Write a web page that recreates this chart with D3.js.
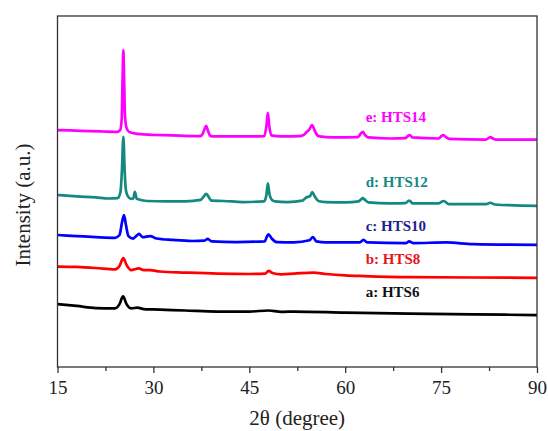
<!DOCTYPE html>
<meta charset="utf-8">
<script src="https://d3js.org/d3.v7.min.js"></script>
<style>
  body { margin: 0; background: #fff; }
  text { font-family: "Liberation Serif", "Times New Roman", serif; }
</style>
<div id="chart"></div>
<script>

// 2theta (degree) / intensity (a.u., offset patterns)
var hts14 = [[15,67.5],[17,67.4],[20,67.2],[22,67.1],[24.3,67.0],[24.8,67.5],[25.05,70.9],[25.18,81.9],[25.3,90.3],[25.42,81.9],[25.55,71.8],[25.8,68.1],[26.2,67.0],[27.5,66.4],[30,66.1],[33,66.0],[36,65.8],[37.3,65.8],[37.7,66.4],[38.0,67.8],[38.25,68.7],[38.5,67.5],[38.8,66.1],[39.2,65.7],[42,65.7],[45,65.7],[47.35,65.8],[47.7,69.0],[47.9,72.4],[48.1,69.0],[48.45,66.0],[50,65.7],[53,65.8],[53.5,66.1],[54.0,67.0],[54.4,67.7],[54.8,68.9],[55.2,67.5],[55.6,66.1],[56,65.7],[58,65.4],[62.0,65.5],[62.4,66.4],[62.75,67.0],[63.1,66.1],[63.6,65.4],[67,65.1],[69.4,65.2],[69.8,65.8],[70.1,66.1],[70.5,65.4],[74.6,65.1],[75.0,65.7],[75.35,66.1],[75.8,65.4],[76.3,65.0],[82,64.8],[82.4,65.2],[82.7,65.5],[83.1,65.1],[83.6,64.8],[90,64.8]];
var hts12 = [[15,49.0],[18,48.6],[21,48.3],[23,48.0],[24.4,48.1],[24.85,49.9],[25.08,56.1],[25.3,65.6],[25.5,56.1],[25.7,50.4],[26.0,48.7],[26.5,47.9],[26.85,48.0],[27.1,49.9],[27.4,47.9],[29,47.3],[32,47.2],[35,47.2],[37.4,47.6],[37.8,48.4],[38.3,49.3],[38.7,48.3],[39.1,47.4],[41,47.3],[44,47.0],[47.3,47.2],[47.65,48.7],[47.9,52.3],[48.15,49.3],[48.5,47.7],[49,47.2],[51,47.0],[53.3,47.4],[53.9,48.3],[54.5,48.7],[54.85,49.8],[55.3,48.4],[55.8,47.3],[57,47.0],[60,46.9],[62.1,47.2],[62.45,47.7],[62.75,48.1],[63.1,47.6],[63.6,46.9],[67,46.6],[69.4,46.7],[70,47.4],[70.6,46.6],[74.6,46.6],[75.4,47.3],[76.2,46.4],[82,46.4],[82.7,46.8],[83.4,46.3],[90,45.9]];
var hts10 = [[15,37.6],[18,37.3],[21,37.0],[24,36.8],[24.7,37.6],[25.1,41.3],[25.4,43.3],[25.7,40.5],[26.1,37.3],[26.8,36.6],[27.3,37.3],[27.75,37.9],[28.3,37.0],[29.5,37.3],[30.5,36.6],[33,36.2],[36,35.9],[38,36.0],[38.5,36.5],[39.1,35.8],[43,35.6],[47.4,35.8],[47.8,37.3],[48.0,37.8],[48.5,36.6],[49.3,35.6],[52,35.5],[54.4,36.1],[54.95,37.0],[55.5,35.8],[57,35.5],[62.3,35.5],[62.85,36.2],[63.5,35.5],[69.5,35.3],[70,35.8],[70.6,35.3],[75.8,35.5],[80,35.0],[90,34.8]];
var hts8 = [[15,28.6],[18,28.5],[21,28.2],[24,27.8],[24.7,28.8],[25.3,31.0],[25.8,29.1],[26.5,27.6],[27.7,28.1],[28.5,27.6],[29.5,27.6],[31,27.2],[35,26.9],[40,26.6],[45,26.5],[47.5,26.6],[48,27.4],[48.6,26.8],[50,26.4],[52,26.6],[55,26.9],[57,26.5],[60,26.1],[63,25.9],[70,25.6],[80,25.5],[90,25.4]];
var hts6 = [[15,17.9],[18,17.4],[21,16.8],[24,16.7],[24.7,17.9],[25.25,20.1],[25.8,17.9],[26.5,16.7],[27.5,16.9],[28.5,16.5],[30,16.4],[35,16.1],[40,15.8],[45,15.8],[48,16.1],[50,15.7],[52,15.8],[60,15.5],[70,15.2],[80,15.0],[90,14.8]];

var seriesNames = ["e: HTS14", "d: HTS12", "c: HTS10", "b: HTS8", "a: HTS6"];
var seriesData = [hts14, hts12, hts10, hts8, hts6];
var lineColors = ["#ff00ff", "#14897f", "#0000ff", "#ff0000", "#000000"];
var textColors = ["#ff00ff", "#14897f", "#1f1f8c", "#e8121b", "#111111"];
var labelY = [121.7, 187.3, 230.7, 264, 297.3];

var xTicks = [15, 30, 45, 60, 75, 90];
var xMinor = [22.5, 37.5, 52.5, 67.5, 82.5];

var W = 548, H = 431;
var margin = {top: 16, right: 11, bottom: 64, left: 57.5};
var width = W - margin.left - margin.right;
var height = H - margin.top - margin.bottom;

var svg = d3.select("#chart").append("svg")
    .attr("width", W)
    .attr("height", H);

var g = svg.append("g")
    .attr("transform", "translate(" + margin.left + "," + margin.top + ")");

var x = d3.scaleLinear().domain([15, 90]).range([0, width]);
var y = d3.scaleLinear().domain([0, 100]).range([height, 0]);

var line = d3.line()
    .x(function(d) { return x(d[0]); })
    .y(function(d) { return y(d[1]); })
    .curve(d3.curveMonotoneX);

g.selectAll(".pattern")
  .data(seriesData)
  .enter()
  .append("path")
    .attr("class", "pattern")
    .attr("d", line)
    .attr("fill", "none")
    .attr("stroke", function(d, i) { return lineColors[i]; })
    .attr("stroke-width", 2.7)
    .attr("stroke-linejoin", "round");

// labels
g.selectAll(".lab")
  .data(seriesNames)
  .enter()
  .append("text")
    .attr("class", "lab")
    .attr("x", x(63.2))
    .attr("y", function(d, i) { return labelY[i] - margin.top; })
    .attr("fill", function(d, i) { return textColors[i]; })
    .attr("font-size", 15)
    .attr("font-weight", "bold")
    .text(function(d) { return d; });

// frame
g.append("rect")
    .attr("width", width)
    .attr("height", height)
    .attr("fill", "none")
    .attr("stroke", "#333")
    .attr("stroke-width", 1.3);

// x axis, major + minor ticks pointing out
var xAxis = g.append("g")
    .attr("transform", "translate(0," + height + ")")
    .call(d3.axisBottom(x).tickValues(xTicks).tickSize(6).tickPadding(8).tickFormat(d3.format("d")));
xAxis.select(".domain").remove();
xAxis.selectAll("line").attr("stroke", "#333").attr("stroke-width", 1.3);
xAxis.selectAll("text")
    .attr("font-size", 19)
    .attr("fill", "#222");

var minor = g.append("g")
    .attr("transform", "translate(0," + height + ")")
    .call(d3.axisBottom(x).tickValues(xMinor).tickSize(4).tickFormat(""));
minor.select(".domain").remove();
minor.selectAll("line").attr("stroke", "#333").attr("stroke-width", 1.3);

// axis titles
svg.append("text")
    .attr("x", margin.left + width / 2)
    .attr("y", 425)
    .attr("text-anchor", "middle")
    .attr("font-size", 21)
    .attr("fill", "#222")
    .text("2θ (degree)");

svg.append("text")
    .attr("transform", "translate(30,205) rotate(-90)")
    .attr("text-anchor", "middle")
    .attr("font-size", 21)
    .attr("fill", "#222")
    .text("Intensity (a.u.)");

</script>
